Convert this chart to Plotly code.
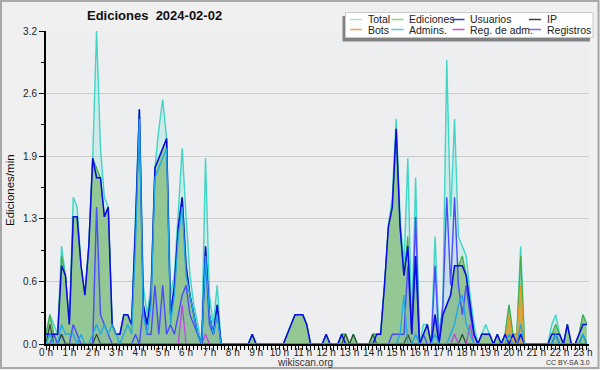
import plotly.graph_objects as go

# ---- data: 10-minute bins, values in edits per minute ----
hours = [i / 6 for i in range(140)]

total = [0.1, 0.3, 0.2, 0.1, 1.0, 0.7,
         0.2, 1.5, 1.4, 0.8, 0.5, 1.0,
         1.9, 3.2, 2.0, 1.5, 1.4, 0.2,
         0.1, 0.1, 0.3, 0.3, 0.2, 1.3,
         2.4, 0.6, 0.3, 0.6, 1.8, 2.2,
         2.5, 2.1, 0.5, 0.7, 1.3, 2.0,
         1.3, 0.7, 0.4, 0.2, 0.0, 1.9,
         0.5, 0.2, 0.6, 0.0, 0.0, 0.0,
         0.0, 0.0, 0.0, 0.0, 0.0, 0.1,
         0.0, 0.0, 0.0, 0.0, 0.0, 0.0,
         0.0, 0.0, 0.1, 0.2, 0.3, 0.3,
         0.3, 0.2, 0.0, 0.0, 0.0, 0.0,
         0.1, 0.0, 0.0, 0.0, 0.1, 0.1,
         0.0, 0.1, 0.0, 0.0, 0.0, 0.0,
         0.1, 0.1, 0.1, 0.6, 1.2, 1.5,
         2.3, 1.3, 0.8, 1.9, 0.2, 1.7,
         0.0, 0.2, 0.2, 0.0, 1.1, 0.1,
         0.4, 2.9, 1.3, 2.3, 1.1, 1.0,
         0.9, 0.5, 0.2, 0.0, 0.1, 0.2,
         0.1, 0.0, 0.1, 0.0, 0.1, 0.4,
         0.1, 0.1, 1.0, 0.0, 0.0, 0.0,
         0.0, 0.0, 0.0, 0.0, 0.2, 0.3,
         0.1, 0.0, 0.2, 0.0, 0.0, 0.1,
         0.3, 0.2]

ediciones = [0.1, 0.3, 0.1, 0.1, 0.9, 0.7,
             0.2, 1.3, 1.3, 0.8, 0.5, 1.0,
             1.9, 1.8, 1.7, 1.3, 1.4, 0.2,
             0.1, 0.1, 0.3, 0.3, 0.2, 1.2,
             2.4, 0.4, 0.2, 0.5, 1.8, 1.9,
             2.0, 2.1, 0.3, 0.6, 1.2, 1.5,
             0.8, 0.5, 0.3, 0.1, 0.0, 1.0,
             0.3, 0.1, 0.4, 0.0, 0.0, 0.0,
             0.0, 0.0, 0.0, 0.0, 0.0, 0.1,
             0.0, 0.0, 0.0, 0.0, 0.0, 0.0,
             0.0, 0.0, 0.1, 0.2, 0.3, 0.3,
             0.3, 0.2, 0.0, 0.0, 0.0, 0.0,
             0.1, 0.0, 0.0, 0.0, 0.1, 0.1,
             0.0, 0.1, 0.0, 0.0, 0.0, 0.0,
             0.1, 0.1, 0.1, 0.6, 1.2, 1.4,
             2.2, 1.2, 0.7, 1.1, 0.1, 0.9,
             0.0, 0.1, 0.2, 0.0, 0.3, 0.0,
             0.3, 0.4, 0.5, 0.8, 0.8, 0.9,
             0.7, 0.4, 0.1, 0.0, 0.1, 0.1,
             0.1, 0.0, 0.1, 0.0, 0.1, 0.4,
             0.1, 0.1, 0.9, 0.0, 0.0, 0.0,
             0.0, 0.0, 0.0, 0.0, 0.1, 0.2,
             0.1, 0.0, 0.2, 0.0, 0.0, 0.1,
             0.3, 0.2]

usuarios = [0.1, 0.1, 0.1, 0.1, 0.8, 0.7,
            0.2, 1.3, 1.3, 0.8, 0.5, 1.0,
            1.9, 1.7, 1.7, 1.3, 1.4, 0.2,
            0.1, 0.1, 0.3, 0.3, 0.2, 1.2,
            2.4, 0.4, 0.2, 0.5, 1.8, 1.9,
            2.0, 2.1, 0.3, 0.6, 1.2, 1.5,
            0.8, 0.5, 0.3, 0.1, 0.0, 1.0,
            0.3, 0.1, 0.4, 0.0, 0.0, 0.0,
            0.0, 0.0, 0.0, 0.0, 0.0, 0.1,
            0.0, 0.0, 0.0, 0.0, 0.0, 0.0,
            0.0, 0.0, 0.1, 0.2, 0.3, 0.3,
            0.3, 0.2, 0.0, 0.0, 0.0, 0.0,
            0.1, 0.0, 0.0, 0.0, 0.1, 0.0,
            0.0, 0.0, 0.0, 0.0, 0.0, 0.0,
            0.0, 0.1, 0.1, 0.6, 1.2, 1.4,
            2.2, 1.2, 0.7, 1.0, 0.1, 0.9,
            0.0, 0.1, 0.2, 0.0, 0.3, 0.0,
            0.3, 0.4, 0.5, 0.8, 0.8, 0.8,
            0.7, 0.4, 0.1, 0.0, 0.1, 0.1,
            0.1, 0.0, 0.1, 0.0, 0.1, 0.0,
            0.1, 0.0, 0.1, 0.0, 0.0, 0.0,
            0.0, 0.0, 0.0, 0.0, 0.1, 0.1,
            0.1, 0.0, 0.2, 0.0, 0.0, 0.1,
            0.2, 0.2]

ip = [0.0, 0.2, 0.0, 0.0, 0.1, 0.0,
      0.0, 0.0, 0.0, 0.0, 0.0, 0.0,
      0.0, 0.1, 0.0, 0.0, 0.0, 0.0,
      0.0, 0.0, 0.0, 0.0, 0.0, 0.0,
      0.0, 0.0, 0.0, 0.0, 0.0, 0.0,
      0.0, 0.0, 0.0, 0.0, 0.0, 0.0,
      0.0, 0.0, 0.0, 0.0, 0.0, 0.0,
      0.0, 0.0, 0.0, 0.0, 0.0, 0.0,
      0.0, 0.0, 0.0, 0.0, 0.0, 0.0,
      0.0, 0.0, 0.0, 0.0, 0.0, 0.0,
      0.0, 0.0, 0.0, 0.0, 0.0, 0.0,
      0.0, 0.0, 0.0, 0.0, 0.0, 0.0,
      0.0, 0.0, 0.0, 0.0, 0.0, 0.1,
      0.0, 0.1, 0.0, 0.0, 0.0, 0.0,
      0.1, 0.0, 0.0, 0.0, 0.0, 0.0,
      0.0, 0.0, 0.0, 0.1, 0.0, 0.0,
      0.0, 0.0, 0.0, 0.0, 0.0, 0.0,
      0.0, 0.0, 0.0, 0.0, 0.0, 0.1,
      0.0, 0.0, 0.0, 0.0, 0.0, 0.0,
      0.0, 0.0, 0.0, 0.0, 0.0, 0.0,
      0.0, 0.0, 0.0, 0.0, 0.0, 0.0,
      0.0, 0.0, 0.0, 0.0, 0.0, 0.1,
      0.0, 0.0, 0.0, 0.0, 0.0, 0.0,
      0.1, 0.0]

bots = [0.0] * 119 + [0.3, 0.0, 0.1, 0.6] + [0.0] * 17

admins = [0.0, 0.1, 0.0, 0.0, 0.2, 0.1,
          0.1, 0.1, 0.0, 0.1, 0.0, 0.0,
          0.1, 0.2, 0.1, 0.2, 0.1, 0.2,
          0.1, 0.0, 0.1, 0.2, 0.1, 1.0,
          2.3, 0.3, 0.1, 0.4, 1.7, 1.8,
          1.9, 2.0, 0.2, 0.5, 1.1, 1.4,
          0.7, 0.5, 0.3, 0.1, 0.0, 0.9,
          0.3, 0.1, 0.3, 0.0, 0.0, 0.0,
          0.0, 0.0, 0.0, 0.0, 0.0, 0.0,
          0.0, 0.0, 0.0, 0.0, 0.0, 0.0,
          0.0, 0.0, 0.0, 0.0, 0.0, 0.0,
          0.0, 0.0, 0.0, 0.0, 0.0, 0.0,
          0.0, 0.0, 0.0, 0.0, 0.0, 0.0,
          0.0, 0.0, 0.0, 0.0, 0.0, 0.0,
          0.0, 0.0, 0.0, 0.0, 0.0, 0.0,
          0.0, 0.1, 0.5, 0.0, 0.0, 0.1,
          0.0, 0.0, 0.0, 0.0, 0.1, 0.0,
          0.0, 0.0, 0.1, 0.2, 0.4, 0.5,
          0.2, 0.1, 0.0, 0.0, 0.0, 0.0,
          0.0, 0.0, 0.0, 0.0, 0.0, 0.1,
          0.0, 0.0, 0.2, 0.0, 0.0, 0.0,
          0.0, 0.0, 0.0, 0.0, 0.0, 0.1,
          0.0, 0.0, 0.0, 0.0, 0.0, 0.0,
          0.1, 0.0]

reg_adm = ([0.0] * 35 + [0.4] + [0.0] * 5 + [0.1] + [0.0] * 63 + [0.1]
           + [0.0] * 3 + [0.2] + [0.0] * 30)

registros = [0.0, 0.0, 0.1, 0.0, 0.1, 0.0,
             0.0, 0.2, 0.1, 0.0, 0.0, 0.0,
             0.0, 1.4, 0.3, 0.2, 0.1, 0.0,
             0.0, 0.0, 0.0, 0.0, 0.0, 0.1,
             0.0, 0.4, 0.1, 0.1, 0.6, 0.1,
             0.6, 0.1, 0.2, 0.1, 0.3, 0.5,
             0.6, 0.3, 0.2, 0.1, 0.0, 0.9,
             0.2, 0.1, 0.3, 0.0, 0.0, 0.0,
             0.0, 0.0, 0.0, 0.0, 0.0, 0.0,
             0.0, 0.0, 0.0, 0.0, 0.0, 0.0,
             0.0, 0.0, 0.0, 0.0, 0.0, 0.0,
             0.0, 0.0, 0.0, 0.0, 0.0, 0.0,
             0.0, 0.0, 0.0, 0.0, 0.0, 0.0,
             0.0, 0.0, 0.0, 0.0, 0.0, 0.0,
             0.0, 0.0, 0.0, 0.0, 0.0, 0.1,
             0.1, 0.1, 0.1, 0.8, 0.1, 1.3,
             0.0, 0.1, 0.0, 0.0, 0.8, 0.0,
             0.4, 1.5, 0.6, 1.5, 0.6, 0.3,
             0.6, 0.3, 0.1, 0.0, 0.0, 0.0,
             0.0, 0.0, 0.0, 0.0, 0.0, 0.0,
             0.0, 0.0, 0.1, 0.0, 0.0, 0.0,
             0.0, 0.0, 0.0, 0.0, 0.0, 0.1,
             0.0, 0.0, 0.0, 0.0, 0.0, 0.0,
             0.0, 0.0]

x_tick_vals = list(range(24))
x_tick_text = [f"{h} h" for h in range(24)]
y_tick_vals = [0, 0.64, 1.28, 1.92, 2.56, 3.2]
y_tick_text = ["0.0", "0.6", "1.3", "1.9", "2.6", "3.2"]

legend_items = [
    ("Total", "#a6e3da"), ("Ediciones", "#8fd08f"), ("Usuarios", "#3a3ad0"), ("IP", "#404040"),
    ("Bots", "#f2a040"), ("Admins.", "#55c8e4"), ("Reg. de adm.", "#c455e0"), ("Registros", "#7474e6"),
]

# ---- geometry ----
W, H = 600, 370
L, R, T, B = 46, 11, 31, 26
PW, PH = W - L - R, H - T - B


def px(x):
    return (x - L) / PW


def py(y):
    return (H - B - y) / PH


FONT = "Liberation Sans"

fig = go.Figure()

fig.add_trace(go.Scatter(x=hours, y=total, mode="lines", fill="tozeroy",
                         fillcolor="rgba(64,216,200,0.16)",
                         line=dict(color="#3fd6c6", width=1.4), hoverinfo="skip"))
fig.add_trace(go.Scatter(x=hours, y=ediciones, mode="lines", fill="tozeroy",
                         fillcolor="#93c895",
                         line=dict(color="#43ad4a", width=1.2), hoverinfo="skip"))
fig.add_trace(go.Scatter(x=hours, y=bots, mode="lines", fill="tozeroy",
                         fillcolor="rgba(240,150,30,0.55)",
                         line=dict(color="#f0961e", width=1.2), hoverinfo="skip"))
fig.add_trace(go.Scatter(x=hours, y=registros, mode="lines", fill="tozeroy",
                         fillcolor="rgba(70,70,255,0.06)",
                         line=dict(color="#4a4aff", width=1.4), hoverinfo="skip"))
fig.add_trace(go.Scatter(x=hours, y=ip, mode="lines",
                         line=dict(color="#2e4a36", width=1.2), hoverinfo="skip"))
fig.add_trace(go.Scatter(x=hours, y=reg_adm, mode="lines",
                         line=dict(color="#c040e0", width=1.2), hoverinfo="skip"))
fig.add_trace(go.Scatter(x=hours, y=usuarios, mode="lines",
                         line=dict(color="#0a0ae6", width=1.5), hoverinfo="skip"))
fig.add_trace(go.Scatter(x=hours, y=admins, mode="lines",
                         line=dict(color="#1fa8e6", width=1.3), hoverinfo="skip"))

fig.update_layout(
    width=W, height=H, margin=dict(l=L, r=R, t=T, b=B, pad=0, autoexpand=False),
    paper_bgcolor="#f0f0f0", plot_bgcolor="#eceef0",
    showlegend=False,
    font=dict(family=FONT, size=10, color="#222222"),
    xaxis=dict(range=[0, 23.26], tickvals=x_tick_vals, ticktext=x_tick_text, automargin=False,
               ticks="outside", ticklen=4, tickwidth=1, tickcolor="#000000", ticklabelstandoff=-6,
               showgrid=False, zeroline=False, showline=True, linecolor="#000000", linewidth=2,
               tickfont=dict(family=FONT, size=10, color="#222222"),
               minor=dict(dtick=1 / 6, tick0=0, ticks="outside", ticklen=4, tickcolor="#000000",
                          tickwidth=1, showgrid=False)),
    yaxis=dict(range=[0, 3.2], tickvals=y_tick_vals, ticktext=y_tick_text, automargin=False,
               ticks="outside", ticklen=5, tickwidth=1, tickcolor="#000000",
               showgrid=True, gridcolor="#cccccc", gridwidth=1, zeroline=False,
               showline=True, linecolor="#000000", linewidth=2,
               tickfont=dict(family=FONT, size=10, color="#222222"),
               minor=dict(tickvals=[0.32, 0.96, 1.6, 2.24, 2.88], ticks="outside", ticklen=3,
                          tickcolor="#000000", showgrid=False)),
)

shapes = []
annotations = []

# outer frame
shapes.append(dict(type="rect", xref="paper", yref="paper", x0=px(1), x1=px(598.5), y0=py(368), y1=py(1),
                   line=dict(color="#a8a8a8", width=2), fillcolor="rgba(0,0,0,0)", layer="above"))

# title and axis labels
annotations.append(dict(text="<b>Ediciones\u00a0\u00a02024-02-02</b>", x=px(85), y=py(16), xref="paper", yref="paper",
                        xanchor="left", yanchor="middle", showarrow=False,
                        font=dict(family=FONT, size=13, color="#111111")))
annotations.append(dict(text="Ediciones/min", x=px(10), y=py(190), xref="paper", yref="paper",
                        textangle=-90, xanchor="center", yanchor="middle", showarrow=False,
                        font=dict(family=FONT, size=11.5, color="#111111")))
annotations.append(dict(text="wikiscan.org", x=px(305), y=py(362), xref="paper", yref="paper",
                        xanchor="center", yanchor="middle", showarrow=False,
                        font=dict(family=FONT, size=10, color="#333333")))
annotations.append(dict(text="CC BY-SA 3.0", x=px(592), y=py(362), xref="paper", yref="paper",
                        xanchor="right", yanchor="middle", showarrow=False,
                        font=dict(family=FONT, size=7, color="#333333")))

# legend box with shadow
shapes.append(dict(type="rect", xref="paper", yref="paper", x0=px(342.5), x1=px(590), y0=py(41.5), y1=py(16),
                   line=dict(width=0), fillcolor="#828282", layer="above"))
shapes.append(dict(type="rect", xref="paper", yref="paper", x0=px(345.5), x1=px(593), y0=py(37.5), y1=py(12.5),
                   line=dict(color="#c8c8c8", width=1), fillcolor="#ffffff", layer="above"))
col_x = [350, 391.5, 452.5, 529]
row_y = [19.5, 29.5]
for k, (name, col) in enumerate(legend_items):
    cx = col_x[k % 4]
    cy = row_y[k // 4]
    shapes.append(dict(type="line", xref="paper", yref="paper", x0=px(cx), x1=px(cx + 12), y0=py(cy), y1=py(cy),
                       line=dict(color=col, width=1.5), layer="above"))
    annotations.append(dict(text=name, x=px(cx + 15.5), y=py(cy), xref="paper", yref="paper",
                            xanchor="left", yanchor="middle", showarrow=False,
                            font=dict(family=FONT, size=10.5, color="#222222")))

fig.update_layout(shapes=shapes, annotations=annotations)
fig.write_html("out.html", config={"displayModeBar": False},
               post_script="document.body.style.margin='0';document.body.style.padding='0';")
